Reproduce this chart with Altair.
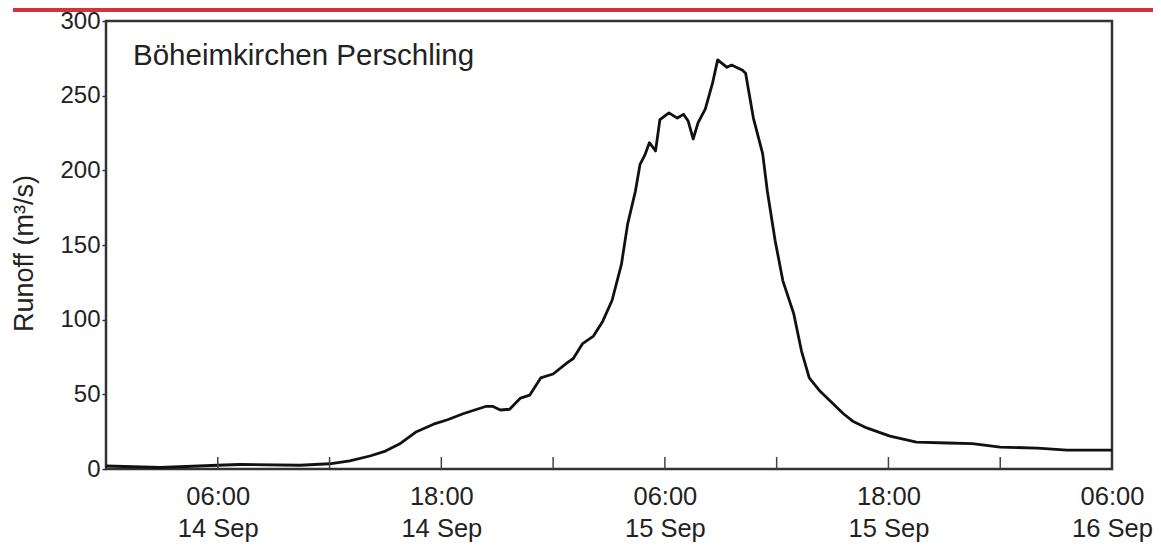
import altair as alt
import pandas as pd

# ---- data ----
times = [
    "2007-09-14T00:00", "2007-09-14T02:55", "2007-09-14T06:00", "2007-09-14T07:10",
    "2007-09-14T10:25", "2007-09-14T12:00", "2007-09-14T13:05", "2007-09-14T14:10",
    "2007-09-14T15:00", "2007-09-14T15:45",
    "2007-09-14T16:40", "2007-09-14T17:35", "2007-09-14T18:20", "2007-09-14T19:10",
    "2007-09-14T20:25", "2007-09-14T20:45", "2007-09-14T21:10", "2007-09-14T21:40",
    "2007-09-14T22:15", "2007-09-14T22:45", "2007-09-14T23:20", "2007-09-15T00:00",
    "2007-09-15T00:45", "2007-09-15T01:05", "2007-09-15T01:35", "2007-09-15T02:10",
    "2007-09-15T02:40", "2007-09-15T03:10", "2007-09-15T03:40", "2007-09-15T04:00",
    "2007-09-15T04:25", "2007-09-15T04:40", "2007-09-15T04:55", "2007-09-15T05:10",
    "2007-09-15T05:30", "2007-09-15T05:44", "2007-09-15T06:13", "2007-09-15T06:40",
    "2007-09-15T07:00", "2007-09-15T07:15", "2007-09-15T07:31", "2007-09-15T07:47",
    "2007-09-15T08:10", "2007-09-15T08:33", "2007-09-15T08:50", "2007-09-15T09:20",
    "2007-09-15T09:35", "2007-09-15T10:10", "2007-09-15T10:20", "2007-09-15T10:45",
    "2007-09-15T11:15", "2007-09-15T11:30", "2007-09-15T11:55", "2007-09-15T12:20",
    "2007-09-15T12:55", "2007-09-15T13:20", "2007-09-15T13:45", "2007-09-15T14:20",
    "2007-09-15T15:15", "2007-09-15T15:35", "2007-09-15T16:05", "2007-09-15T16:50",
    "2007-09-15T18:05", "2007-09-15T19:30", "2007-09-15T21:10", "2007-09-15T22:30",
    "2007-09-16T00:00", "2007-09-16T02:00", "2007-09-16T03:35", "2007-09-16T06:00",
]
runoff = [
    2.0, 1.0, 2.5, 3.0,
    2.5, 3.5, 5.4, 8.7,
    12.0, 16.7,
    25.0, 30.0, 33.0, 37.0,
    42.0, 42.0, 39.5, 40.0,
    47.5, 49.5, 61.0, 63.6,
    71.0, 74.0, 84.0, 89.0,
    99.0, 113.0, 137.0, 164.0,
    186.0, 204.0, 210.0, 218.5,
    213.0, 234.0, 238.5, 235.0,
    237.5, 233.0, 221.0, 232.0,
    241.0, 258.0, 274.0, 269.0,
    270.5, 267.0, 265.0, 235.0,
    211.0, 186.0, 153.0, 126.0,
    104.0, 79.0, 61.0, 52.0,
    41.0, 37.0, 32.0, 27.5,
    22.0, 18.0, 17.4, 17.0,
    14.7, 14.0, 12.7, 12.7,
]
tick_times = [
    "2007-09-14T06:00", "2007-09-14T12:00", "2007-09-14T18:00", "2007-09-15T00:00",
    "2007-09-15T06:00", "2007-09-15T12:00", "2007-09-15T18:00", "2007-09-16T00:00",
]
label_days_hours = [(14, 6), (14, 18), (15, 6), (15, 18), (16, 6)]
y_ticks = [0, 50, 100, 150, 200, 250, 300]
station = "Böheimkirchen Perschling"
y_title = "Runoff (m³/s)"

W, H = 1006, 448
FONT = "Liberation Sans"
TXT = "#222222"

df = pd.DataFrame({"time": times, "runoff": runoff})
ticks_df = pd.DataFrame({"time": tick_times})
one = pd.DataFrame({"k": [0]})

x_domain = [
    alt.DateTime(year=2007, month=9, date=14, hours=0),
    alt.DateTime(year=2007, month=9, date=16, hours=6),
]
label_values = [alt.DateTime(year=2007, month=9, date=d, hours=h) for d, h in label_days_hours]

x_enc = alt.X(
    "time:T",
    title=None,
    scale=alt.Scale(domain=x_domain),
    axis=alt.Axis(
        values=label_values,
        labelExpr="[timeFormat(datum.value, '%H:%M'), timeFormat(datum.value, '%-d %b')]",
        ticks=False, domain=False, grid=False,
        labelFont=FONT, labelFontSize=25.5, labelColor=TXT,
        labelPadding=15, labelLineHeight=32,
        labelFlush=False, labelOverlap=False,
    ),
)
y_enc = alt.Y(
    "runoff:Q",
    title=y_title,
    scale=alt.Scale(domain=[0, 300], nice=False),
    axis=alt.Axis(
        values=y_ticks, grid=False, domain=False,
        tickSize=4, tickColor="#333333", tickWidth=1.5,
        labelFont=FONT, labelFontSize=24, labelColor=TXT, labelPadding=2,
        titleFont=FONT, titleFontSize=27, titleFontWeight="normal", titleColor=TXT,
        titlePadding=21, titleY=232,
    ),
)

line = alt.Chart(df).mark_line(color="#111111", strokeWidth=2.8, strokeJoin="round").encode(
    x=x_enc, y=y_enc
)

inner_ticks = alt.Chart(ticks_df).mark_rule(color="#444444", strokeWidth=1.5).encode(
    x="time:T", y=alt.value(H - 12), y2=alt.value(H)
)

red_rule = alt.Chart(one).mark_rule(color="#d1343a", strokeWidth=4).encode(
    x=alt.value(-93), x2=alt.value(1060), y=alt.value(-11)
)

label = alt.Chart(one).mark_text(
    text=station, font=FONT, fontSize=29.5, color=TXT, align="left", baseline="alphabetic"
).encode(x=alt.value(27), y=alt.value(44))

chart = (
    alt.layer(line, inner_ticks, red_rule, label)
    .properties(
        width=W, height=H,
        autosize=alt.AutoSizeParams(type="none"),
        padding={"left": 98, "top": 13, "right": 41, "bottom": 73},
        background="white",
    )
    .configure_view(stroke="#333333", strokeWidth=2.5)
)

chart.save("out.html", embed_options={"renderer": "svg", "actions": False})
